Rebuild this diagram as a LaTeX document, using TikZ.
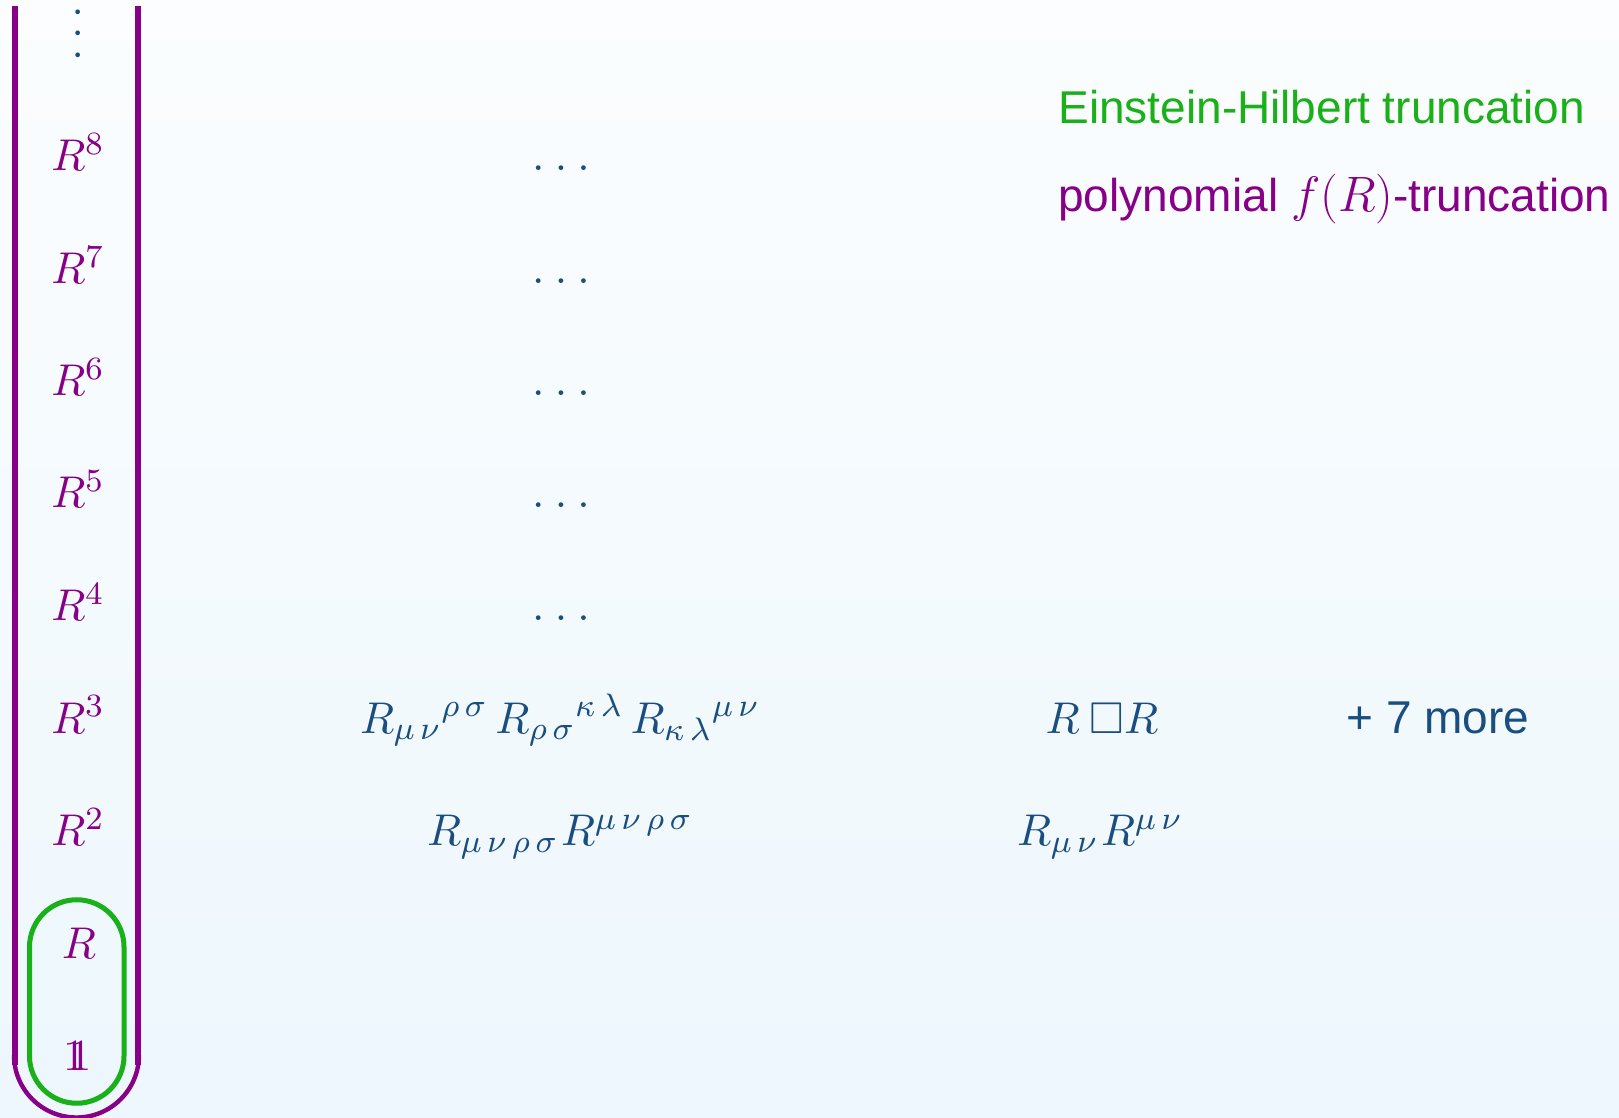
\documentclass[tikz,border=0pt]{standalone}
\usepackage{fontspec}
\setsansfont{Liberation Sans}
\usepackage{amssymb}
\usepackage{graphicx}
\definecolor{purp}{RGB}{135,0,135}
\definecolor{grn}{RGB}{26,176,26}
\definecolor{blu}{RGB}{26,78,128}
\definecolor{bgtop}{RGB}{251,253,254}
\definecolor{bgbot}{RGB}{237,247,253}
\newcommand{\slide}[1]{\scalebox{2.03}{\fontsize{10.95}{13.6}\selectfont #1}}
\newcommand{\unitone}{\mathrm{1\kern-0.37em 1}}
\newcommand{\gp}{\mkern3mu}
\begin{document}
\begin{tikzpicture}[x=0.5pt,y=-0.5pt,
  lab/.style={anchor=base, text=purp, inner sep=0pt},
  term/.style={anchor=base, text=blu, inner sep=0pt},
  legend/.style={anchor=base west, font=\sffamily\fontsize{23}{28}\selectfont, inner sep=0pt},
  fline/.style={purp, line width=3pt},
  ehline/.style={grn, line width=2.5pt}]
\fill[top color=bgtop, bottom color=bgbot] (0,0) rectangle (1619,1118);
\useasboundingbox (0,0) rectangle (1619,1118);
% f(R) frame
\draw[fline] (14.5,6) -- (14.5,1065);
\draw[fline] (138,6) -- (138,1065);
\draw[purp, line width=2.2pt] (14,1055) arc[start angle=180, end angle=0, radius=62.5];
% Einstein-Hilbert stadium
\draw[ehline] (29.5,947) -- (29.5,1056) arc[start angle=180, end angle=0, radius=47.25]
  -- (124,947) arc[start angle=0, end angle=-180, radius=47.25] -- cycle;
% vdots
\node[text=blu, inner sep=0pt] (vd) at (78,33.5)
  {\rotatebox{90}{\slide{.\kern2.26pt.\kern2.26pt.}}};
% left column
\node[lab] (r8) at (78,171) {\slide{$R^8$}};
\node[lab] (r7) at (78,283.5) {\slide{$R^7$}};
\node[lab] (r6) at (78,396) {\slide{$R^6$}};
\node[lab] (r5) at (78,508) {\slide{$R^5$}};
\node[lab] (r4) at (78,620.5) {\slide{$R^4$}};
\node[lab] (r3) at (78,733) {\slide{$R^3$}};
\node[lab] (r2) at (78,845.5) {\slide{$R^2$}};
\node[lab] (r1) at (79,958) {\slide{$R$}};
\node[lab] (r0) at (78,1070) {\slide{$\unitone$}};
% middle column
\newcommand{\dd}{\slide{$\ldotp\mkern1.2mu\ldotp\mkern1.2mu\ldotp$}}
\node[term] (d8) at (561,171) {\dd};
\node[term] (d7) at (561,283.5) {\dd};
\node[term] (d6) at (561,396) {\dd};
\node[term] (d5) at (561,508) {\dd};
\node[term] (d4) at (561,620.5) {\dd};
\node[term] (c3a) at (560,733) {\slide{$R_{\mu\gp\nu}{}^{\rho\gp\sigma}\,R_{\rho\gp\sigma}{}^{\kappa\gp\lambda}\,R_{\kappa\gp\lambda}{}^{\mu\gp\nu}$}};
\node[term] (c2a) at (560,845.5) {\slide{$R_{\mu\gp\nu\gp\rho\gp\sigma}\mkern1mu R^{\mu\gp\nu\gp\rho\gp\sigma}$}};
% third column
\node[term] (c3b) at (1102,733) {\slide{$R\mkern4mu\Box R$}};
\node[term] (c2b) at (1100,845.5) {\slide{$R_{\mu\gp\nu}\mkern1mu R^{\mu\gp\nu}$}};
\node[term, font=\sffamily\fontsize{23}{28}\selectfont] (more) at (1438,733) {+ 7 more};
% legend
\node[legend, text=grn] (ehl) at (1058,124) {Einstein-Hilbert truncation};
\node[legend, text=purp] (frl) at (1058,212) {polynomial $f(R)$-truncation};
\end{tikzpicture}
\end{document}
